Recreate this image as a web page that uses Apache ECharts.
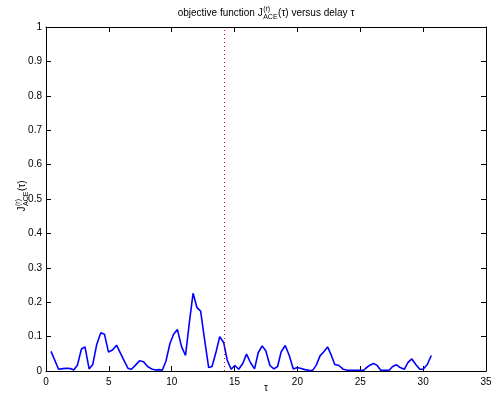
<!DOCTYPE html>
<html>
<head>
<meta charset="utf-8">
<script src="https://cdn.jsdelivr.net/npm/echarts@6/dist/echarts.min.js"></script>
<style>
html,body{margin:0;padding:0;background:#fff;}
#c{width:494px;height:401px;}
</style>
</head>
<body>
<div id="c"></div>
<script>
// Data
var tau = [0.40,1.0,1.35,1.65,1.95,2.2,2.5,2.82,3.1,3.43,3.72,4.04,4.36,4.65,4.97,5.29,5.61,5.93,6.25,6.54,6.8,7.12,7.44,7.76,8.08,8.4,8.7,9.0,9.25,9.55,9.86,10.15,10.45,10.78,11.1,11.4,11.7,12.01,12.3,12.62,12.94,13.21,13.53,13.82,14.14,14.41,14.73,15.02,15.33,15.65,15.95,16.27,16.59,16.88,17.2,17.49,17.81,18.13,18.42,18.71,19.03,19.35,19.67,19.99,20.3,20.6,20.9,21.2,21.5,21.8,22.1,22.4,22.65,22.97,23.31,23.65,23.98,24.3,24.6,24.95,25.25,25.44,25.76,26.05,26.32,26.63,26.95,27.3,27.57,27.89,28.17,28.5,28.8,29.1,29.43,29.74,30.0,30.33,30.65];
var J = [0.057,0.005,0.007,0.008,0.007,0.003,0.017,0.064,0.07,0.006,0.019,0.078,0.111,0.107,0.055,0.061,0.075,0.051,0.027,0.007,0.005,0.017,0.03,0.027,0.013,0.006,0.003,0.004,0.002,0.03,0.08,0.107,0.121,0.071,0.045,0.14,0.226,0.184,0.174,0.09,0.01,0.013,0.056,0.1,0.082,0.032,0.005,0.016,0.005,0.022,0.049,0.024,0.006,0.053,0.073,0.058,0.016,0.006,0.013,0.056,0.074,0.045,0.006,0.01,0.007,0.004,0.002,0.001,0.017,0.044,0.056,0.07,0.05,0.019,0.016,0.005,0.002,0.002,0.002,0.002,0.002,0.008,0.017,0.022,0.017,0.002,0.002,0.002,0.013,0.018,0.01,0.005,0.025,0.035,0.018,0.005,0.005,0.019,0.045];
var delayMarker = 14.15;
var titleParts = ['objective function J', '(r)', 'ACE', '(τ) versus delay τ'];
var yNameParts = ['J', '(r)', 'ACE', '(τ)'];

var FONT = '"Liberation Sans", Arial, Helvetica, sans-serif';
var BIG = '10px ' + FONT, SMALL = '7px ' + FONT;
var cv = document.createElement('canvas').getContext('2d');
function w(t, f){ cv.font = f; return cv.measureText(t).width; }

// TeX-like "A J^(r)_ACE B" as text elements along a local baseline (middle-aligned)
function texLabel(parts){
  var a = parts[0], sup = parts[1], sub = parts[2], b = parts[3];
  var x0 = 0, els = [];
  function txt(t, x, y, f){
    return {type:'text', x:x, y:y, style:{text:t, font:f, fill:'#000', align:'left', verticalAlign:'middle'}};
  }
  els.push(txt(a, x0, 0, BIG));
  x0 += w(a, BIG) + 0.5;
  els.push(txt(sup, x0, -4, SMALL));
  els.push(txt(sub, x0, 4, SMALL));
  x0 += Math.max(w(sup, SMALL), w(sub, SMALL)) + 0.5;
  els.push(txt(b, x0, 0, BIG));
  x0 += w(b, BIG);
  return {els:els, width:x0};
}
var T = texLabel(titleParts);
var Y = texLabel(yNameParts);

var pts = tau.map(function(t,i){return [t,J[i]];});
var chart = echarts.init(document.getElementById('c'), null, {renderer:'canvas'});
var axisCommon = {
  axisLine:{show:true,onZero:false,lineStyle:{color:'#000',width:1}},
  axisTick:{show:true,inside:true,length:5,lineStyle:{color:'#000',width:1}},
  splitLine:{show:false}
};
chart.setOption({
  animation:false,
  backgroundColor:'#fff',
  graphic:[
    {type:'group', x:266 - T.width/2, y:13, children:T.els, silent:true},
    {type:'group', x:22, y:196 + Y.width/2, rotation:Math.PI/2, children:Y.els, silent:true},
    {type:'text', x:266, y:388, silent:true,
      style:{text:'τ', font:BIG, fill:'#000', align:'center', verticalAlign:'middle'}}
  ],
  grid:{left:46,right:8,top:27,bottom:30,containLabel:false,outerBoundsMode:'none'},
  xAxis:[
    Object.assign({type:'value',min:0,max:35,interval:5,position:'bottom',
      axisLabel:{fontFamily:FONT,fontSize:10,color:'#000',margin:6}},axisCommon),
    Object.assign({type:'value',min:0,max:35,interval:5,position:'top',
      axisLabel:{show:false}},axisCommon)
  ],
  yAxis:[
    Object.assign({type:'value',min:0,max:1,interval:0.1,position:'left',
      axisLabel:{fontFamily:FONT,fontSize:10,color:'#000',margin:4,
        formatter:function(v){return String(Math.round(v*10)/10);}}},axisCommon),
    Object.assign({type:'value',min:0,max:1,interval:0.1,position:'right',
      axisLabel:{show:false}},axisCommon)
  ],
  series:[{
    type:'line',data:pts,showSymbol:false,symbol:'none',
    lineStyle:{color:'#0000ff',width:1.6},
    xAxisIndex:0,yAxisIndex:0,
    markLine:{
      silent:true,symbol:['none','none'],label:{show:false},
      lineStyle:{color:'rgb(255,0,0)',width:1,type:[1,3],opacity:1},
      data:[[{coord:[delayMarker,0]},{coord:[delayMarker,1]}]]
    }
  }]
});
</script>
</body>
</html>
